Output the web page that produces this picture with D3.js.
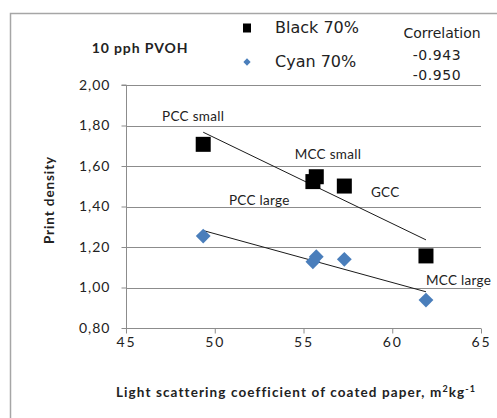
<!DOCTYPE html>
<html>
<head>
<meta charset="utf-8">
<script src="https://cdn.jsdelivr.net/npm/d3@7"></script>
<style>
  html, body { margin: 0; padding: 0; background: #fff; }
  svg { display: block; }
</style>
</head>
<body>
<svg id="chart" width="497" height="418"></svg>
<script>
// Light scattering coefficient (m²/kg) for each pigment coating
const scattering = [49.35, 55.53, 55.72, 57.3, 61.9];
// Print density at 70% tone
const blackDensity = [1.707, 1.523, 1.547, 1.501, 1.156];
const cyanDensity  = [1.254, 1.127, 1.152, 1.139, 0.938];
const seriesNames = ["Black 70%", "Cyan 70%"];
const correlations = ["-0.943", "-0.950"];
const xTicks = [45, 50, 55, 60, 65];
const yTicks = [0.8, 1.0, 1.2, 1.4, 1.6, 1.8, 2.0];
// Pigment labels and the data-space point where each one starts
const pigmentLabels = ["PCC small", "MCC small", "GCC", "PCC large", "MCC large"];
const pigmentLabelX = [47.03, 54.5, 58.8, 50.8, 61.9];
const pigmentLabelY = [1.822, 1.635, 1.447, 1.407, 1.012];

const svg = d3.select("#chart");
const W = 497, H = 418;

const x = d3.scaleLinear().domain([45, 65]).range([126, 481]);
const y = d3.scaleLinear().domain([0.8, 2.0]).range([328, 85]);

// outer chart frame
svg.append("rect")
  .attr("x", 10.5).attr("y", 13.5)
  .attr("width", W + 20).attr("height", H + 20)
  .attr("fill", "none").attr("stroke", "#a6a6a6").attr("stroke-width", 1.5);

// horizontal gridlines
svg.append("g").selectAll("line")
  .data(yTicks.filter(d => d > 0.8))
  .join("line")
  .attr("x1", x(45)).attr("x2", x(65))
  .attr("y1", d => Math.round(y(d)) + 0.5).attr("y2", d => Math.round(y(d)) + 0.5)
  .attr("stroke", "#8c8c8c").attr("stroke-width", 1);

const axisFont = "Lato, 'Open Sans', sans-serif";

// y axis
const yAxis = svg.append("g")
  .attr("transform", `translate(${x(45) + 0.5},0)`)
  .call(d3.axisLeft(y).tickValues(yTicks).tickSize(5).tickPadding(11)
    .tickFormat(d => d3.format(".2f")(d).replace(".", ",")));
yAxis.select(".domain").attr("stroke", "#8c8c8c").attr("d", `M-5,${y(2.0)}H0V${y(0.8)}`);
yAxis.selectAll(".tick line").attr("stroke", "#8c8c8c");
yAxis.selectAll(".tick text")
  .attr("font-family", axisFont).attr("font-size", 14).attr("letter-spacing", 1)
  .attr("fill", "#222");

// x axis
const xAxis = svg.append("g")
  .attr("transform", `translate(0,${Math.round(y(0.8)) + 0.5})`)
  .call(d3.axisBottom(x).tickValues(xTicks).tickSize(5).tickPadding(4).tickFormat(d3.format("d")));
xAxis.select(".domain").attr("stroke", "#8c8c8c").attr("d", `M${x(45)},0H${x(65)}`);
xAxis.selectAll(".tick line").attr("stroke", "#8c8c8c");
xAxis.selectAll(".tick text")
  .attr("font-family", axisFont).attr("font-size", 14).attr("letter-spacing", 2)
  .attr("fill", "#222");

// axis titles
svg.append("text")
  .attr("transform", `translate(54,200) rotate(-90)`)
  .attr("text-anchor", "middle")
  .attr("font-family", axisFont).attr("font-weight", "bold").attr("font-size", 13.5)
  .attr("letter-spacing", 0.9)
  .attr("fill", "#222").text("Print density");

const xt = svg.append("text")
  .attr("x", 296).attr("y", 397)
  .attr("text-anchor", "middle")
  .attr("font-family", axisFont).attr("font-weight", "bold").attr("font-size", 13.5)
  .attr("letter-spacing", 1.1)
  .attr("fill", "#222");
xt.append("tspan").text("Light scattering coefficient  of coated paper, m");
xt.append("tspan").attr("font-size", 9).attr("dy", -5).text("2");
xt.append("tspan").attr("dy", 5).text("kg");
xt.append("tspan").attr("font-size", 9).attr("dy", -5).text("-1");

// least-squares trend line for a series
function trend(xs, ys) {
  const mx = d3.mean(xs), my = d3.mean(ys);
  let sxy = 0, sxx = 0;
  xs.forEach((xi, i) => { sxy += (xi - mx) * (ys[i] - my); sxx += (xi - mx) ** 2; });
  const b = sxy / sxx, a = my - b * mx;
  const [x0, x1] = d3.extent(xs);
  return [[x0, a + b * x0], [x1, a + b * x1]];
}

const line = d3.line().x(d => x(d[0])).y(d => y(d[1]));
[blackDensity, cyanDensity].forEach(ys => {
  svg.append("path")
    .attr("d", line(trend(scattering, ys)))
    .attr("fill", "none").attr("stroke", "#1a1a1a").attr("stroke-width", 1);
});

// markers
const sq = 15;
svg.append("g").selectAll("rect")
  .data(scattering.map((v, i) => [v, blackDensity[i]]))
  .join("rect")
  .attr("x", d => x(d[0]) - sq / 2).attr("y", d => y(d[1]) - sq / 2)
  .attr("width", sq).attr("height", sq).attr("fill", "#000");

const diamond = d3.symbol().type(d3.symbolDiamond2).size(140);
svg.append("g").selectAll("path")
  .data(scattering.map((v, i) => [v, cyanDensity[i]]))
  .join("path")
  .attr("d", diamond)
  .attr("transform", d => `translate(${x(d[0])},${y(d[1])})`)
  .attr("fill", "#4a7ebb");

// pigment labels
svg.append("g").selectAll("text")
  .data(pigmentLabels)
  .join("text")
  .attr("x", (d, i) => x(pigmentLabelX[i])).attr("y", (d, i) => y(pigmentLabelY[i]))
  .attr("font-family", axisFont).attr("font-size", 13.5).attr("fill", "#222")
  .attr("letter-spacing", 0.3)
  .text(d => d);

// header text
svg.append("text")
  .attr("x", 140).attr("y", 53).attr("text-anchor", "middle")
  .attr("font-family", axisFont).attr("font-weight", "bold").attr("font-size", 14)
  .attr("letter-spacing", 0.9)
  .attr("fill", "#222").text("10 pph PVOH");

const legendFont = "'DejaVu Sans', Verdana, sans-serif";
svg.append("rect").attr("x", 243).attr("y", 23.5).attr("width", 8).attr("height", 9).attr("fill", "#000");
svg.append("path").attr("d", d3.symbol().type(d3.symbolDiamond2).size(34))
  .attr("transform", "translate(247,62)").attr("fill", "#4a7ebb");
svg.append("g").selectAll("text")
  .data(seriesNames)
  .join("text")
  .attr("x", 275).attr("y", (d, i) => 33 + i * 34)
  .attr("font-family", legendFont).attr("font-size", 16).attr("fill", "#222")
  .text(d => d);

svg.append("text")
  .attr("x", 442).attr("y", 38).attr("text-anchor", "middle")
  .attr("font-family", legendFont).attr("font-size", 14).attr("fill", "#222")
  .text("Correlation");
svg.append("g").selectAll("text")
  .data(correlations)
  .join("text")
  .attr("x", 437).attr("y", (d, i) => 60 + i * 20).attr("text-anchor", "middle")
  .attr("font-family", legendFont).attr("font-size", 14).attr("letter-spacing", 0.6)
  .attr("fill", "#222")
  .text(d => d);
</script>
</body>
</html>
